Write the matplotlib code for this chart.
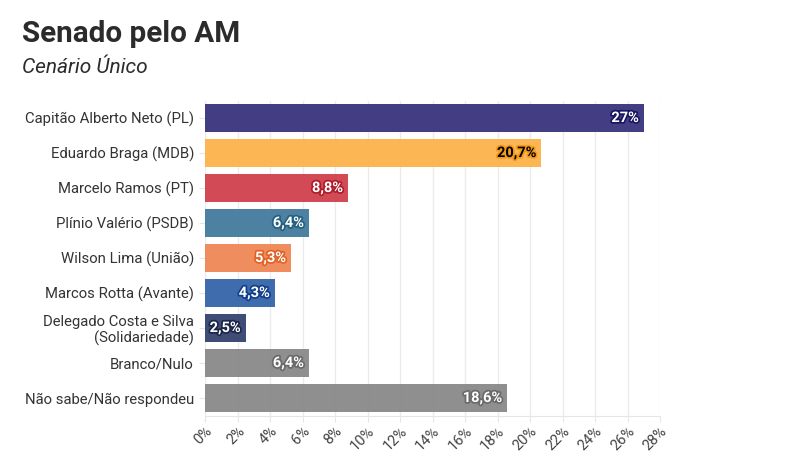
import matplotlib
matplotlib.use('Agg')
import matplotlib.pyplot as plt
import matplotlib.patheffects as pe
from matplotlib.ticker import MultipleLocator, FuncFormatter

plt.rcParams['font.family'] = ['Roboto', 'DejaVu Sans']

# dados
candidatos = ['Capitão Alberto Neto (PL)', 'Eduardo Braga (MDB)', 'Marcelo Ramos (PT)',
              'Plínio Valério (PSDB)', 'Wilson Lima (União)', 'Marcos Rotta (Avante)',
              'Delegado Costa e Silva\n(Solidariedade)', 'Branco/Nulo', 'Não sabe/Não respondeu']
valores = [27, 20.7, 8.8, 6.4, 5.3, 4.3, 2.5, 6.4, 18.6]
rotulos = ['27%', '20,7%', '8,8%', '6,4%', '5,3%', '4,3%', '2,5%', '6,4%', '18,6%']
cores = ['#3d3880', '#fdb44e', '#d0444f', '#467d9f', '#f0895a', '#3867ab', '#394670', '#8b8b8b', '#8b8b8b']
halos = ['#1a1660', '#f39a1c', '#b01c2c', '#24607f', '#e06224', '#123f8a', '#1c2648', '#6a6a6a', '#6a6a6a']
cor_texto = ['white', 'black', 'white', 'white', 'white', 'white', 'white', 'white', 'white']

fig = plt.figure(figsize=(8.03, 4.74), dpi=100)
ax = fig.add_axes([205/803, 1-415.5/474, 455/803, 315/474])

y = list(range(len(candidatos)))
ax.barh(y, valores, height=0.8, color=cores, alpha=0.97, zorder=2)

for i in y:
    ax.text(valores[i] - 0.3, i, rotulos[i], ha='right', va='center', fontsize=10.5,
            fontweight='bold', color=cor_texto[i], zorder=3,
            path_effects=[pe.withStroke(linewidth=2.5, foreground=halos[i])])

ax.set_xlim(0, 28)
ax.set_ylim(8.5, -0.5)
ax.xaxis.set_major_locator(MultipleLocator(2))
ax.xaxis.set_major_formatter(FuncFormatter(lambda v, p: f'{v:.0f}%'))
ax.set_yticks(y)
ax.set_yticklabels(candidatos, fontsize=10.7, color='#333333', linespacing=1.1)
for lab in ax.get_xticklabels():
    lab.set_rotation(45)
    lab.set_ha('right')
    lab.set_rotation_mode('anchor')
ax.tick_params(axis='x', labelsize=10.5, labelcolor='#444444', color='#e6e6e6', length=4, pad=2)
ax.tick_params(axis='y', color='#e6e6e6', length=4, pad=4)

ax.grid(axis='x', color='#ebebeb', linewidth=1, zorder=0)
for s in ['top', 'right', 'left']:
    ax.spines[s].set_visible(False)
ax.spines['bottom'].set_color('#e6e6e6')

fig.text(22/803, 1-42/474, 'Senado pelo AM', fontsize=21.3, fontweight='bold', color='#2b2b2b')
fig.text(22/803, 1-73/474, 'Cenário Único', fontsize=15, style='italic', color='#2b2b2b')

fig.savefig('out.png', dpi=100)
